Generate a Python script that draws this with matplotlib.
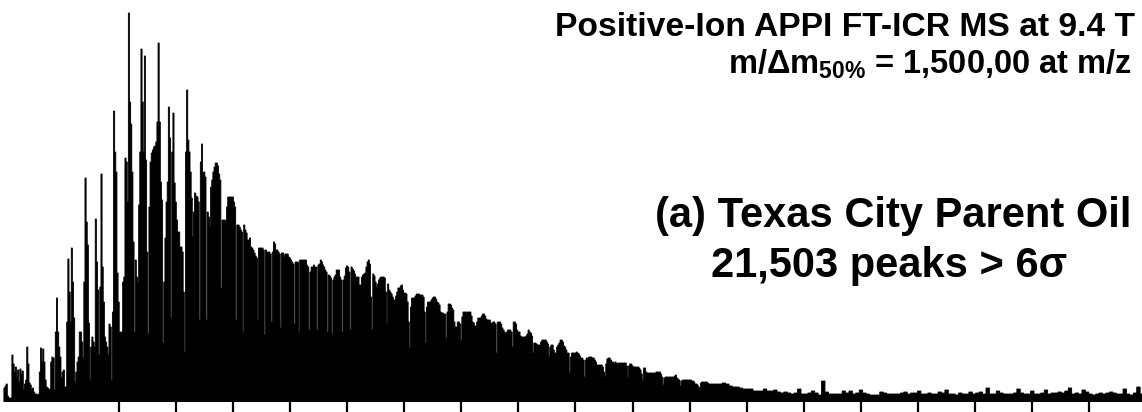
import numpy as np
import matplotlib
matplotlib.use("Agg")
import matplotlib.pyplot as plt

plt.rcParams['font.family'] = ['Liberation Sans', 'DejaVu Sans']
plt.rcParams['mathtext.fontset'] = 'custom'
plt.rcParams['mathtext.rm'] = 'Liberation Sans:bold'
plt.rcParams['mathtext.bf'] = 'Liberation Sans:bold'
plt.rcParams['mathtext.it'] = 'Liberation Sans:bold'

# ---------------- data (abundance, arbitrary units) ----------------
# nominal-mass bins, 1 Da each, m/z 150-302
abund_150_302 = [
    14, 16, 18, 6, 4, 4, 4, 47, 38, 30,
    35, 25, 32, 20, 33, 28, 31, 12, 18, 22,
    55, 38, 19, 17, 12, 14, 10, 8, 8, 7,
    8, 30, 54, 40, 53, 40, 22, 15, 14, 13,
    12, 40, 45, 44, 12, 70, 104, 70, 55, 45,
    24, 30, 32, 15, 15, 80, 143, 110, 80, 154,
    120, 84, 20, 30, 40, 45, 70, 70, 60, 44,
    120, 224, 180, 157, 79, 22, 55, 65, 60, 55,
    183, 140, 112, 47, 115, 228, 135, 100, 65, 60,
    55, 47, 78, 75, 22, 90, 291, 250, 230, 129,
    100, 70, 70, 70, 120, 125, 244, 240, 200, 389,
    300, 278, 230, 160, 70, 142, 125, 119, 197, 250,
    353, 300, 250, 346, 242, 150, 68, 195, 240, 249,
    252, 255, 256, 260, 280, 359, 280, 220, 202, 59,
    120, 164, 200, 220, 295, 264, 84, 250, 289, 219,
    200, 182, 170,
]
# m/z 303-494
abund_303_494 = [
    170, 155, 155, 150, 110, 50, 250, 312, 262, 250,
    230, 204, 165, 190, 209, 206, 205, 200, 82, 240,
    258, 229, 230, 225, 82, 190, 185, 175, 215, 222,
    230, 235, 239, 239, 236, 228, 222, 114, 182, 182,
    182, 180, 195, 205, 205, 205, 205, 205, 200, 195,
    82, 177, 177, 175, 172, 170, 70, 177, 172, 169,
    162, 162, 164, 155, 154, 152, 149, 146, 144, 82,
    154, 154, 154, 154, 152, 67, 152, 150, 150, 150,
    148, 80, 150, 160, 158, 152, 152, 150, 148, 74,
    149, 149, 145, 148, 148, 148, 145, 144, 142, 140,
    138, 78, 140, 140, 140, 70, 142, 142, 142, 142,
    142, 142, 137, 135, 72, 130, 135, 135, 137, 135,
    135, 72, 137, 138, 142, 140, 137, 135, 132, 130,
    70, 127, 126, 124, 68, 122, 125, 127, 132, 132,
    132, 125, 122, 70, 122, 126, 134, 136, 135, 130,
    72, 135, 133, 131, 128, 125, 125, 125, 117, 117,
    125, 127, 128, 129, 135, 140, 142, 138, 105, 72,
    128, 126, 120, 115, 118, 122, 124, 125, 125, 125,
    124, 110, 78, 118, 112, 110, 108, 105, 102, 102,
    106, 110,
]
# m/z 495-687
abund_495_687 = [
    114, 114, 116, 117, 112, 109, 109, 108, 100, 80,
    54, 95, 104, 104, 104, 106, 108, 108, 108, 107,
    107, 107, 105, 90, 59, 95, 100, 100, 100, 102,
    104, 105, 105, 103, 100, 99, 97, 90, 89, 89,
    88, 88, 64, 90, 98, 98, 97, 94, 92, 80,
    75, 75, 80, 80, 78, 62, 85, 90, 90, 90,
    90, 90, 90, 90, 86, 80, 79, 76, 76, 80,
    84, 84, 84, 86, 88, 88, 86, 83, 82, 82,
    82, 79, 78, 80, 80, 78, 49, 80, 80, 80,
    78, 74, 72, 70, 68, 70, 72, 72, 72, 70,
    55, 80, 80, 78, 72, 70, 70, 66, 65, 65,
    65, 65, 66, 68, 72, 70, 69, 66, 49, 59,
    59, 58, 57, 57, 57, 60, 62, 62, 62, 62,
    60, 58, 45, 55, 57, 57, 52, 49, 49, 55,
    57, 59, 62, 62, 60, 56, 55, 52, 49, 49,
    29, 45, 49, 49, 49, 49, 50, 49, 48, 46,
    44, 44, 42, 25, 42, 44, 44, 45, 45, 45,
    44, 44, 42, 40, 37, 37, 37, 37, 37, 35,
    30, 25, 38, 43, 44, 44, 42, 40, 40, 38,
    40, 39, 38,
]
# m/z 688-769
abund_688_769 = [
    39, 39, 39, 39, 39, 39, 39, 36, 24, 36,
    38, 38, 36, 35, 35, 35, 35, 35, 34, 32,
    28, 21, 34, 34, 30, 29, 29, 29, 29, 29,
    29, 29, 29, 30, 30, 30, 30, 28, 25, 17,
    24, 25, 25, 25, 25, 25, 25, 25, 25, 26,
    27, 24, 23, 22, 16, 21, 22, 22, 22, 22,
    22, 22, 22, 22, 21, 21, 20, 18, 18, 17,
    15, 12, 19, 20, 20, 20, 20, 20, 19, 18,
    18, 18,
]
# 3-Da bins, m/z 770-1147
abund_770_1147 = [
    18, 18, 18, 19, 18, 16, 15, 15, 14, 13,
    13, 13, 11, 11, 11, 13, 11, 11, 12, 10,
    9, 10, 9, 8, 9, 13, 8, 8, 9, 11,
    9, 7, 21, 10, 8, 8, 8, 8, 11, 9,
    11, 8, 9, 12, 9, 8, 7, 7, 7, 10,
    9, 8, 8, 8, 8, 9, 10, 8, 9, 9,
    11, 8, 8, 9, 8, 8, 10, 9, 12, 8,
    8, 7, 9, 8, 8, 10, 8, 9, 10, 8,
    14, 8, 8, 11, 9, 8, 8, 8, 9, 13,
    9, 8, 8, 11, 8, 8, 9, 12, 8, 9,
    9, 10, 9, 11, 14, 8, 9, 8, 12, 10,
    8, 7, 8, 9, 8, 9, 10, 9, 8, 8,
    13, 8, 7, 9, 15, 8,
]
tick_mz = [250, 300, 350, 400, 450, 500, 550, 600, 650, 700,
           750, 800, 850, 900, 950, 1000, 1050, 1100]

title_1 = "Positive-Ion APPI FT-ICR MS at 9.4 T"
title_2 = r"m/Δm${}_{50\%}$ = 1,500,00 at m/z"
label_1 = "(a) Texas City Parent Oil"
label_2 = "21,503 peaks > 6σ"

# ---------------- figure ----------------
W, H = 1142, 412
fig = plt.figure(figsize=(W / 100, H / 100), dpi=100)
ax = fig.add_axes([0, 10 / H, 1, 392 / H])

values = np.array(abund_150_302 + abund_303_494 + abund_495_687
                  + abund_688_769 + abund_770_1147, dtype=float)
edges = np.concatenate([np.arange(149.5, 770.0, 1.0),
                        np.arange(772.5, 1148.0, 3.0)])
ax.stairs(values, edges, fill=True, facecolor='black',
          edgecolor='black', linewidth=0.6)

ax.set_xlim(146.1, 1146.1)
ax.set_ylim(0, 392)
for s in ax.spines.values():
    s.set_visible(False)
ax.set_xticks(tick_mz)
ax.tick_params(axis='x', direction='out', length=7.5, width=1.6,
               color='black', labelbottom=False)
ax.tick_params(axis='y', left=False, labelleft=False)
ax.set_facecolor('none')


def px(x, y):
    return x / W, 1 - y / H


fig.text(*px(555, 36), title_1, fontsize=24.2, fontweight='bold',
         ha='left', va='baseline')
fig.text(*px(728, 73.5), title_2, fontsize=23.5, fontweight='bold',
         ha='left', va='baseline')
fig.text(*px(893, 226.5), label_1, fontsize=30, fontweight='bold',
         ha='center', va='baseline')
fig.text(*px(889.5, 276.5), label_2, fontsize=30, fontweight='bold',
         ha='center', va='baseline')

fig.savefig('out.png', dpi=100)
